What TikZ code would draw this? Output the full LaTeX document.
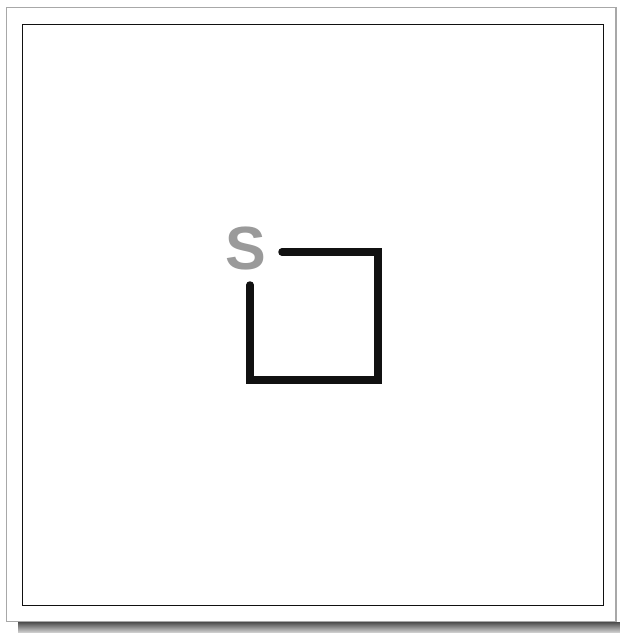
\documentclass[tikz,border=0pt]{standalone}
\usepackage{fontspec}
\setsansfont{Liberation Sans}
\usepackage{xcolor}
\usetikzlibrary{positioning}
\definecolor{frame}{HTML}{A8A8A8}
\definecolor{ink}{HTML}{111111}
\definecolor{startgrey}{HTML}{9A9A9A}

\begin{document}
\begin{tikzpicture}[x=1pt, y=-1pt, font=\sffamily,
    trace/.style={ink, line width=7.5pt, line cap=round, line join=miter},
    start/.style={text=startgrey, font=\fontsize{61}{61}\selectfont\sffamily\bfseries, inner sep=0pt}]
  \useasboundingbox (0,0) rectangle (620,633);
  \fill[white] (0,0) rectangle (620,633);

  % Shadow and frames
  \shade[top color=black!70, bottom color=black!15] (18,622) rectangle (620,633);
  \draw[frame, line width=1.5pt, fill=white] (6.5,7.5) rectangle (616,621.5);
  \draw[ink, line width=1.3pt] (22.5,24.5) rectangle (603.5,605.8);

  % Path
  \coordinate (a) at (250,285);
  \coordinate (b) at (250,380);
  \coordinate (c) at (378,380);
  \coordinate (d) at (378,252);
  \coordinate (e) at (282,252);
  \draw[trace] (a) -- (b) -- (c) -- (d) -- (e);

  % Start mark
  \node[start] (s) at (246,248.5) {S};
\end{tikzpicture}
\end{document}
